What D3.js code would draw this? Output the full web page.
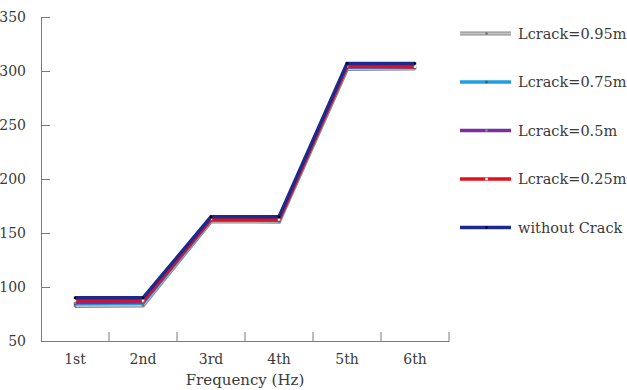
<!DOCTYPE html>
<html>
<head>
<meta charset="utf-8">
<script src="https://cdn.jsdelivr.net/npm/d3@7/dist/d3.min.js"></script>
<style>
  html, body { margin: 0; padding: 0; background: #fff; }
  svg text { font-family: "DejaVu Serif", serif; fill: #3a3a3a; }
</style>
</head>
<body>
<svg id="chart" width="627" height="390"></svg>
<script>
// Natural frequency order labels
const categories = ["1st", "2nd", "3rd", "4th", "5th", "6th"];
const yTicks = [50, 100, 150, 200, 250, 300, 350];

// Frequencies (Hz) for each crack length
const crack095 = [82.5, 83, 161, 160.5, 302, 302.5];
const crack075 = [84.5, 85, 162, 161.5, 303.5, 303.5];
const crack050 = [85.5, 86, 162.5, 162, 304, 304];
const crack025 = [87.5, 87.5, 163, 162.5, 304.5, 304];
const noCrack  = [90, 90, 165, 165, 307, 307];

const seriesNames = ["Lcrack=0.95m", "Lcrack=0.75m", "Lcrack=0.5m", "Lcrack=0.25m", "without Crack"];
const seriesValues = [crack095, crack075, crack050, crack025, noCrack];
const seriesColors = ["#c4c4c4", "#1e9fe0", "#7a2fa0", "#e3101c", "#1c2a8e"];
const markerColors = ["#777777", "#555555", "#888888", "#ffffff", "#000000"];

const svg = d3.select("#chart");
const plotLeft = 41, plotRight = 449, plotTop = 17, plotBottom = 341;

const x = d3.scaleBand().domain(categories).range([plotLeft, plotRight]).padding(0);
const y = d3.scaleLinear().domain([50, 350]).range([plotBottom, plotTop]);
const cx = c => x(c) + x.bandwidth() / 2;

const axisColor = "#7a7a7a";

// y axis: ticks point inward
const yAxis = d3.axisLeft(y).tickValues(yTicks).tickSizeInner(-9).tickSizeOuter(0).tickPadding(15);
const gy = svg.append("g").attr("transform", `translate(${plotLeft},0)`).call(yAxis);
gy.select(".domain").attr("stroke", axisColor);
gy.selectAll(".tick line").attr("stroke", axisColor);
gy.selectAll(".tick text").attr("font-size", 14).attr("fill", "#3a3a3a")
  .style("font-family", "'DejaVu Serif', serif");

// x axis: labels at category centres, ticks on band boundaries
const xAxis = d3.axisBottom(x).tickSize(0).tickPadding(13);
const gx = svg.append("g").attr("transform", `translate(0,${plotBottom})`).call(xAxis);
gx.select(".domain").attr("stroke", axisColor);
gx.selectAll(".tick text").attr("font-size", 14).attr("fill", "#3a3a3a")
  .style("font-family", "'DejaVu Serif', serif");
gx.selectAll(".bound")
  .data(categories)
  .join("line")
  .attr("class", "bound")
  .attr("x1", c => x(c) + x.bandwidth()).attr("x2", c => x(c) + x.bandwidth())
  .attr("y1", 0).attr("y2", -9)
  .attr("stroke", axisColor);

svg.append("text")
  .attr("x", (plotLeft + plotRight) / 2).attr("y", 385)
  .attr("text-anchor", "middle").attr("font-size", 15)
  .text("Frequency (Hz)");

// data lines
const line = d3.line().x((d, i) => cx(categories[i])).y(d => y(d));

seriesValues.forEach((vals, k) => {
  const g = svg.append("g");
  if (k === 0) {
    g.append("path").attr("d", line(vals)).attr("fill", "none")
      .attr("stroke", "#8a8a8a").attr("stroke-width", 4.2);
    g.append("path").attr("d", line(vals)).attr("fill", "none")
      .attr("stroke", seriesColors[k]).attr("stroke-width", 2.2);
  } else {
    g.append("path").attr("d", line(vals)).attr("fill", "none")
      .attr("stroke", seriesColors[k]).attr("stroke-width", 3.4);
  }
  g.selectAll("rect").data(vals).join("rect")
    .attr("x", (d, i) => cx(categories[i]) - 1.2)
    .attr("y", d => y(d) - 1.2)
    .attr("width", 2.4).attr("height", 2.4)
    .attr("fill", markerColors[k]);
});

// legend
const legend = svg.append("g");
const legY = [33.5, 82, 130.5, 179, 227.5];
seriesNames.forEach((name, k) => {
  const ly = legY[k];
  if (k === 0) {
    legend.append("line").attr("x1", 460).attr("x2", 511).attr("y1", ly).attr("y2", ly)
      .attr("stroke", "#8a8a8a").attr("stroke-width", 4.2);
    legend.append("line").attr("x1", 460).attr("x2", 511).attr("y1", ly).attr("y2", ly)
      .attr("stroke", seriesColors[k]).attr("stroke-width", 2.2);
  } else {
    legend.append("line").attr("x1", 460).attr("x2", 511).attr("y1", ly).attr("y2", ly)
      .attr("stroke", seriesColors[k]).attr("stroke-width", 3.4);
  }
  legend.append("rect").attr("x", 485.3).attr("y", ly - 1.2)
    .attr("width", 2.4).attr("height", 2.4).attr("fill", markerColors[k]);
  legend.append("text").attr("x", 518).attr("y", ly + 5)
    .attr("font-size", 14.5).text(name);
});
</script>
</body>
</html>
